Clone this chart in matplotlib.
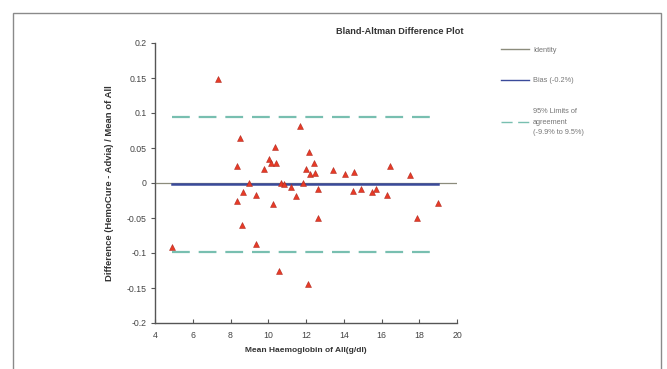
import numpy as np
import matplotlib
matplotlib.use("Agg")
import matplotlib.pyplot as plt
from matplotlib.patches import Rectangle

plt.rcParams['font.family'] = ['Liberation Sans', 'DejaVu Sans']

# mean haemoglobin (x) and relative difference (y)
mean_hb = [4.9, 7.36, 8.5, 8.34, 8.34, 8.68, 8.61, 9.0, 9.36, 9.34,
           9.77, 10.02, 10.14, 10.23, 10.36, 10.41, 10.57, 10.68, 10.86, 11.18,
           11.45, 11.66, 11.86, 11.98, 12.14, 12.23, 12.09, 12.41, 12.48, 12.66,
           12.64, 13.43, 14.05, 14.55, 14.5, 14.91, 15.48, 15.7, 16.3, 16.45,
           17.52, 17.89, 18.98]
rel_diff = [-0.092, 0.148, 0.064, 0.024, -0.025, -0.013, -0.060, 0.0, -0.017, -0.087,
            0.020, 0.034, 0.029, -0.030, 0.052, 0.028, -0.125, 0.0, -0.001, -0.005,
            -0.019, 0.081, 0.0, 0.020, 0.045, 0.013, -0.144, 0.028, 0.015, -0.009,
            -0.050, 0.018, 0.013, 0.016, -0.012, -0.008, -0.013, -0.008, -0.017, 0.024,
            0.011, -0.050, -0.028]

bias = -0.002
loa_low = -0.099
loa_high = 0.095
line_x = [4.9, 19.0]
identity_x = [4, 20]

x_ticks = [4, 6, 8, 10, 12, 14, 16, 18, 20]
y_ticks = [-0.2, -0.15, -0.1, -0.05, 0, 0.05, 0.1, 0.15, 0.2]
y_ticklabels = ['-0.2', '-0.15', '-0.1', '-0.05', '0', '0.05', '0.1', '0.15', '0.2']

fig = plt.figure(figsize=(6.67, 3.69), dpi=100)
fig.patches.append(Rectangle((13 / 667, -0.1), (661 - 13) / 667, 1 - 13 / 369 + 0.1,
                             transform=fig.transFigure, fill=False,
                             edgecolor='#8a8a8a', linewidth=1.0))

ax = fig.add_axes([155 / 667, 1 - 323 / 369, (457 - 155) / 667, (323 - 43) / 369])

ax.plot(identity_x, [0, 0], color='#8c8c7c', linewidth=0.9, label='Identity', zorder=2)
ax.plot(line_x, [bias, bias], color='#3a4a9a', linewidth=1.8, label='Bias (-0.2%)', zorder=3)
ax.plot(line_x, [loa_high, loa_high], color='#78bfb0', linewidth=1.6,
        dashes=(8, 4), label='95% Limits of\nagreement\n(-9.9% to 9.5%)', zorder=2)
ax.plot(line_x, [loa_low, loa_low], color='#78bfb0', linewidth=1.6, dashes=(8, 4), zorder=2)
ax.scatter(mean_hb, rel_diff, marker='^', s=18, color='#e83a26',
           edgecolors='#b02a20', linewidths=0.4, zorder=4)

ax.set_xlim(4, 20)
ax.set_ylim(-0.2, 0.2)
ax.set_xticks(x_ticks)
ax.set_yticks(y_ticks)
ax.set_yticklabels(y_ticklabels)
for s in ['top', 'right']:
    ax.spines[s].set_visible(False)
for s in ['left', 'bottom']:
    ax.spines[s].set_color('#555555')
    ax.spines[s].set_linewidth(1.0)
ax.tick_params(axis='x', direction='in', length=3, labelsize=6.3, colors='#555555', pad=6)
ax.tick_params(axis='y', direction='out', length=3, labelsize=6.3, colors='#555555', pad=3)
for t in ax.get_xticklabels() + ax.get_yticklabels():
    t.set_color('#444444')

ax.set_xlabel('Mean Haemoglobin of All(g/dl)', fontsize=6, fontweight='bold',
              color='#333333', labelpad=5)
ax.set_ylabel('Difference (HemoCure - Advia) / Mean of All', fontsize=6.8,
              fontweight='bold', color='#333333', labelpad=9)
fig.text(400 / 667, 1 - 31 / 369, 'Bland-Altman Difference Plot', fontsize=6.6,
         fontweight='bold', color='#333333', ha='center', va='center')

leg = ax.legend(loc='upper left', bbox_to_anchor=(494 / 667, 1 - 40 / 369),
                bbox_transform=fig.transFigure, frameon=False, fontsize=5.3,
                handlelength=3.8, labelspacing=3.2, handletextpad=0.6)
for t in leg.get_texts():
    t.set_color('#777777')
    t.set_linespacing(1.7)
for h in leg.get_lines():
    h.set_linewidth(1.0)

fig.savefig('out.png', dpi=100)
